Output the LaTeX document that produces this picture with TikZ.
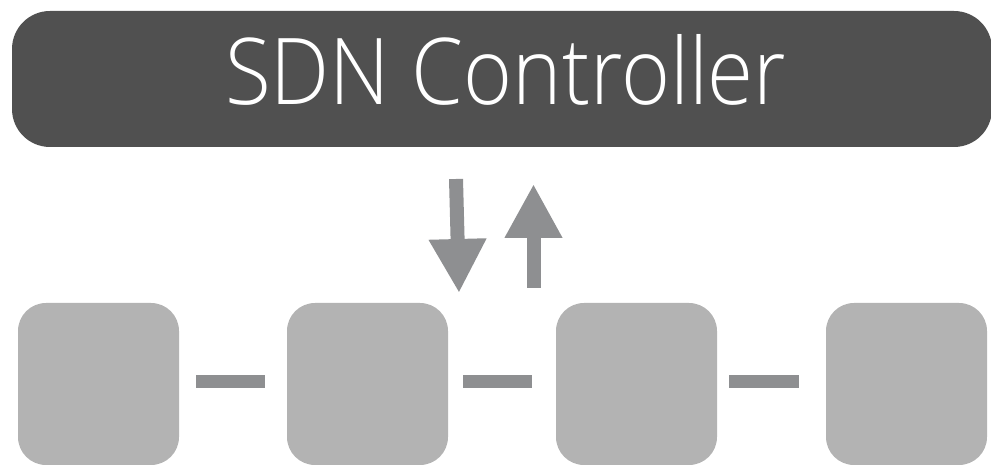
\documentclass[tikz,border=0pt]{standalone}
\usepackage{fontspec}
\usepackage{graphicx}
\newfontfamily\ctlfont{Open Sans Light}
\usetikzlibrary{arrows.meta}
\definecolor{ctlgray}{RGB}{80,80,80}
\definecolor{swgray}{RGB}{179,179,179}
\definecolor{linkgray}{RGB}{142,143,145}
\begin{document}
\begin{tikzpicture}[x=1pt,y=1pt,
  controller/.style={fill=ctlgray,draw=none,rounded corners=38pt},
  switchbox/.style={fill=swgray,draw=none,rounded corners=28pt,minimum width=161pt,minimum height=162pt,inner sep=0pt},
  link/.style={draw=linkgray,line width=13pt},
  flow/.style={draw=linkgray,line width=14pt,-{Triangle[width=54pt,length=54pt]}}]
\useasboundingbox (0,0) rectangle (991,468);
% controller bar across the top
\fill[controller] (12,321) rectangle (992,457);
\node[anchor=base west,inner sep=0pt,text=white] (ctl) at (225,363)
  {\resizebox{561pt}{70pt}{\ctlfont SDN Controller}};
% row of switches
\node[switchbox] (s1) at (98.5,84) {};
\node[switchbox] (s2) at (367.5,84) {};
\node[switchbox] (s3) at (636.5,84) {};
\node[switchbox] (s4) at (906.5,84) {};
% links between neighbouring switches
\draw[link] ([yshift=2pt]s1.east) ++(17,0) -- ([yshift=2pt,xshift=-22pt]s2.west);
\draw[link] ([yshift=2pt]s2.east) ++(15,0) -- ([yshift=2pt,xshift=-24pt]s3.west);
\draw[link] ([yshift=2pt]s3.east) ++(12,0) -- ([yshift=2pt,xshift=-27pt]s4.west);
% control-channel arrows
\coordinate (dtop) at (456,289);
\coordinate (dtip) at (459,175);
\coordinate (ubot) at (533.5,180);
\coordinate (utip) at (533.5,284);
\draw[flow] (dtop) -- (dtip);
\draw[flow] (ubot) -- (utip);
\end{tikzpicture}
\end{document}
